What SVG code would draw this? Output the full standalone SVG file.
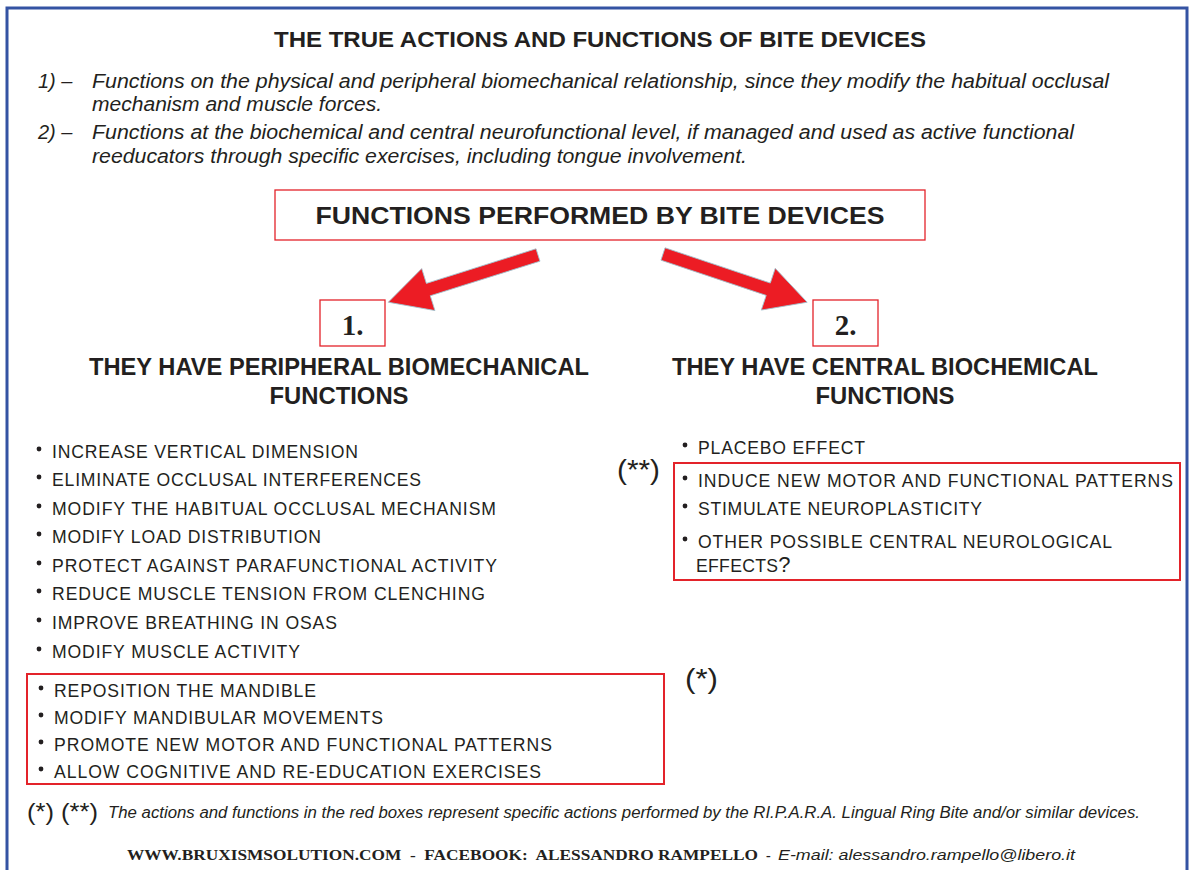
<svg xmlns="http://www.w3.org/2000/svg" width="1194" height="870" viewBox="0 0 1194 870">
<style>
.t{font-family:"Liberation Sans",Arial,sans-serif;fill:#231f20}
.b{font-weight:bold}
.i{font-style:italic}
.li{font-size:17.6px}
.ser{font-family:"Liberation Serif","Times New Roman",serif;font-weight:bold;fill:#231f20}
.rb{fill:none;stroke:#e3232a;stroke-width:2}
.rbt{fill:none;stroke:#e3232a;stroke-width:1.3}
.dot{fill:#231f20}
.arr{fill:#ec1c24;stroke:#9fc3cf;stroke-width:0.8}
</style>
<rect width="1194" height="870" fill="#fff"/>
<rect x="7" y="8" width="1180" height="880" fill="none" stroke="#3453a3" stroke-width="3"/>

<g id="title">
<text class="t b" x="600" y="47" font-size="21.5" text-anchor="middle" textLength="652" lengthAdjust="spacingAndGlyphs">THE TRUE ACTIONS AND FUNCTIONS OF BITE DEVICES</text>
</g>
<g id="intro">
<text class="t i" x="38" y="88" font-size="20">1) –</text>
<text class="t i" x="92" y="88" font-size="20" textLength="1017" lengthAdjust="spacingAndGlyphs">Functions on the physical and peripheral biomechanical relationship, since they modify the habitual occlusal</text>
<text class="t i" x="92" y="111" font-size="20" textLength="290" lengthAdjust="spacingAndGlyphs">mechanism and muscle forces.</text>
<text class="t i" x="38" y="139" font-size="20">2) –</text>
<text class="t i" x="92" y="139" font-size="20" textLength="982" lengthAdjust="spacingAndGlyphs">Functions at the biochemical and central neurofunctional level, if managed and used as active functional</text>
<text class="t i" x="92" y="163" font-size="20" textLength="655" lengthAdjust="spacingAndGlyphs">reeducators through specific exercises, including tongue involvement.</text>
</g>

<g id="main-box">
<rect class="rbt" x="275" y="190" width="650" height="50"/>
<text class="t b" x="600" y="224" font-size="24" text-anchor="middle" textLength="569" lengthAdjust="spacingAndGlyphs">FUNCTIONS PERFORMED BY BITE DEVICES</text>
</g>

<g id="connectors">
<polygon class="arr" transform="translate(538,255) rotate(162.5)" points="0,-6.5 115,-6.5 115,-22 157,0 115,22 115,6.5 0,6.5"/>
<polygon class="arr" transform="translate(663,254) rotate(18.5)" points="0,-6.5 111,-6.5 111,-22 152,0 111,22 111,6.5 0,6.5"/>
</g>

<g id="node1">
<rect class="rbt" x="320" y="300" width="65" height="46"/>
<text class="ser" x="352.5" y="335" font-size="29" text-anchor="middle">1.</text>
<text class="t b" x="339" y="375" font-size="23" text-anchor="middle" textLength="500" lengthAdjust="spacingAndGlyphs">THEY HAVE PERIPHERAL BIOMECHANICAL</text>
<text class="t b" x="339" y="404" font-size="23" text-anchor="middle" textLength="139" lengthAdjust="spacingAndGlyphs">FUNCTIONS</text>
</g>

<g id="node2">
<rect class="rbt" x="813" y="300" width="65" height="46"/>
<text class="ser" x="845.5" y="335" font-size="29" text-anchor="middle">2.</text>
<text class="t b" x="885" y="375" font-size="23" text-anchor="middle" textLength="426" lengthAdjust="spacingAndGlyphs">THEY HAVE CENTRAL BIOCHEMICAL</text>
<text class="t b" x="885" y="404" font-size="23" text-anchor="middle" textLength="139" lengthAdjust="spacingAndGlyphs">FUNCTIONS</text>
</g>

<g id="list1">
<circle class="dot" cx="39" cy="449" r="2.4"/><text class="t li" x="52" y="458" textLength="306" lengthAdjust="spacing">INCREASE VERTICAL DIMENSION</text>
<circle class="dot" cx="39" cy="477" r="2.4"/><text class="t li" x="52" y="486" textLength="369" lengthAdjust="spacing">ELIMINATE OCCLUSAL INTERFERENCES</text>
<circle class="dot" cx="39" cy="506" r="2.4"/><text class="t li" x="52" y="515" textLength="444" lengthAdjust="spacing">MODIFY THE HABITUAL OCCLUSAL MECHANISM</text>
<circle class="dot" cx="39" cy="534" r="2.4"/><text class="t li" x="52" y="543" textLength="269" lengthAdjust="spacing">MODIFY LOAD DISTRIBUTION</text>
<circle class="dot" cx="39" cy="563" r="2.4"/><text class="t li" x="52" y="572" textLength="445" lengthAdjust="spacing">PROTECT AGAINST PARAFUNCTIONAL ACTIVITY</text>
<circle class="dot" cx="39" cy="591" r="2.4"/><text class="t li" x="52" y="600" textLength="433" lengthAdjust="spacing">REDUCE MUSCLE TENSION FROM CLENCHING</text>
<circle class="dot" cx="39" cy="620" r="2.4"/><text class="t li" x="52" y="629" textLength="285" lengthAdjust="spacing">IMPROVE BREATHING IN OSAS</text>
<circle class="dot" cx="39" cy="649" r="2.4"/><text class="t li" x="52" y="658" textLength="248" lengthAdjust="spacing">MODIFY MUSCLE ACTIVITY</text>
</g>

<g id="box1">
<rect class="rb" x="27" y="674" width="637" height="110"/>
<circle class="dot" cx="41" cy="688" r="2.4"/><text class="t li" x="54" y="697" textLength="262" lengthAdjust="spacing">REPOSITION THE MANDIBLE</text>
<circle class="dot" cx="41" cy="715" r="2.4"/><text class="t li" x="54" y="724" textLength="329" lengthAdjust="spacing">MODIFY MANDIBULAR MOVEMENTS</text>
<circle class="dot" cx="41" cy="742" r="2.4"/><text class="t li" x="54" y="751" textLength="498" lengthAdjust="spacing">PROMOTE NEW MOTOR AND FUNCTIONAL PATTERNS</text>
<circle class="dot" cx="41" cy="769" r="2.4"/><text class="t li" x="54" y="778" textLength="487" lengthAdjust="spacing">ALLOW COGNITIVE AND RE-EDUCATION EXERCISES</text>
</g>
<g id="mark1">
<text class="t" x="685" y="688" font-size="27" textLength="33" lengthAdjust="spacingAndGlyphs">(*)</text>
</g>

<g id="list2">
<circle class="dot" cx="685" cy="445" r="2.4"/><text class="t li" x="698" y="454" textLength="167" lengthAdjust="spacing">PLACEBO EFFECT</text>
</g>
<g id="mark2">
<text class="t" x="617" y="479" font-size="27" textLength="43" lengthAdjust="spacingAndGlyphs">(**)</text>
</g>
<g id="box2">
<rect class="rb" x="674" y="463" width="506" height="117"/>
<circle class="dot" cx="685" cy="478" r="2.4"/><text class="t li" x="698" y="487" textLength="475" lengthAdjust="spacing">INDUCE NEW MOTOR AND FUNCTIONAL PATTERNS</text>
<circle class="dot" cx="685" cy="506" r="2.4"/><text class="t li" x="698" y="515" textLength="284" lengthAdjust="spacing">STIMULATE NEUROPLASTICITY</text>
<circle class="dot" cx="685" cy="539" r="2.4"/><text class="t li" x="698" y="548" textLength="414" lengthAdjust="spacing">OTHER POSSIBLE CENTRAL NEUROLOGICAL</text>
<text class="t li" x="696" y="572"><tspan textLength="82" lengthAdjust="spacing">EFFECTS</tspan><tspan font-size="22">?</tspan></text>
</g>

<g id="footnote">
<text class="t" x="27" y="820" font-size="24" textLength="71" lengthAdjust="spacingAndGlyphs">(*) (**)</text>
<text class="t i" x="108" y="818" font-size="16" textLength="1032" lengthAdjust="spacingAndGlyphs">The actions and functions in the red boxes represent specific actions performed by the RI.P.A.R.A. Lingual Ring Bite and/or similar devices.</text>
</g>
<g id="footer">
<text class="ser" x="127" y="860" font-size="14" xml:space="preserve" textLength="631" lengthAdjust="spacingAndGlyphs">WWW.BRUXISMSOLUTION.COM  -  FACEBOOK:  ALESSANDRO RAMPELLO</text>
<text class="ser" x="766" y="860" font-size="14">-</text>
<text class="t i" x="778" y="860" font-size="15" textLength="297" lengthAdjust="spacingAndGlyphs">E-mail: alessandro.rampello@libero.it</text>
</g>
</svg>
